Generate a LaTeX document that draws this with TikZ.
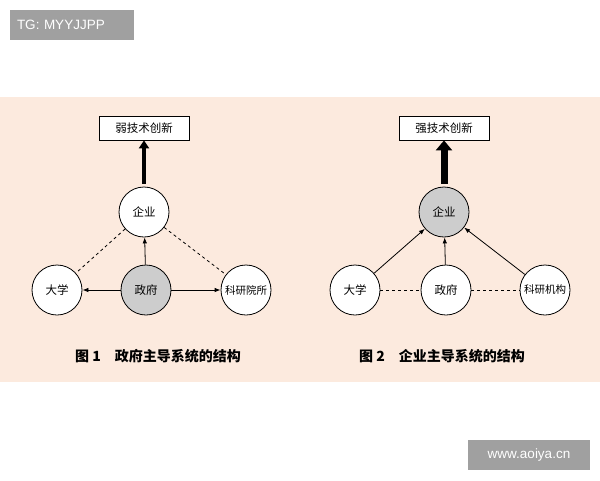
\documentclass[tikz,border=0pt]{standalone}
\usepackage{fontspec}
\setmainfont{Liberation Sans}
\newfontfamily\cjk{Noto Sans CJK SC}
\usetikzlibrary{arrows.meta,positioning}
\definecolor{peach}{RGB}{252,234,222}
\definecolor{nodegrey}{RGB}{205,205,205}
\definecolor{markgrey}{RGB}{160,160,160}
\tikzset{
agent/.style ={circle, draw, thick, fill=white, minimum size=50pt, inner sep=0pt, font=\cjk\fontsize{11.5}{13}\selectfont},
agent_lead/.style ={agent, fill=nodegrey},
result/.style ={rectangle, draw, thick, fill=white, minimum height=24pt, minimum width=90pt, font=\cjk\fontsize{11.5}{13}\selectfont},
caption/.style ={font=\cjk\bfseries\fontsize{14}{16}\selectfont},
watermark/.style ={fill=markgrey, text=white, font=\fontsize{13.5}{15}\selectfont, minimum height=30pt, inner sep=4pt},
line_link/.style ={draw, -{Latex[length=6pt]}, thick, shorten >=0pt},
line_dash/.style ={draw, dashed, thick}
}
\begin{document}
\begin{tikzpicture}[x=1pt,y=-1pt]
\useasboundingbox (0,0) rectangle (600,480);
\fill[peach] (0,97) rectangle (600,382);

%%% Figure 1 %%%
\node [result] (weak) at (144,128) {弱技术创新};
\node [agent] (qy1) at (144,212) {企业};
\node [agent] (dx1) at (57,290) {大学};
\node [agent_lead] (zf1) at (146,290) {政府};
\node [agent, font=\cjk\fontsize{10.5}{12}\selectfont] (ky1) at (246,290) {科研院所};
\draw[line_dash] (qy1) -- (dx1);
\draw[line_dash] (qy1) -- (ky1);
\draw[line_link] (zf1) -- (qy1);
\draw[line_link] (zf1) -- (dx1);
\draw[line_link] (zf1) -- (ky1);
\draw[-{Triangle[length=8pt,width=10pt]}, line width=4pt] (qy1.north) ++(0,-3) -- (weak.south);
\node [caption] (cap1) at (158,356) {图 1\quad 政府主导系统的结构};

%%% Figure 2 %%%
\node [result] (strong) at (444,128) {强技术创新};
\node [agent_lead] (qy2) at (444,212) {企业};
\node [agent] (dx2) at (355,290) {大学};
\node [agent] (zf2) at (446,290) {政府};
\node [agent, font=\cjk\fontsize{10.5}{12}\selectfont] (ky2) at (545,290) {科研机构};
\draw[line_dash] (dx2) -- (zf2);
\draw[line_dash] (zf2) -- (ky2);
\draw[line_link] (dx2) -- (qy2);
\draw[line_link] (zf2) -- (qy2);
\draw[line_link] (ky2) -- (qy2);
\draw[-{Triangle[length=10pt,width=16pt]}, line width=7pt] (qy2.north) ++(0,-3) -- (strong.south);
\node [caption] (cap2) at (442,356) {图 2\quad 企业主导系统的结构};

%%% Marks %%%
\node [watermark, minimum width=124pt, text width=110pt, align=left] (tg) at (72,25) {TG: MYYJJPP};
\node [watermark, minimum width=122pt] (site) at (529,455) {www.aoiya.cn};
\end{tikzpicture}
\end{document}
